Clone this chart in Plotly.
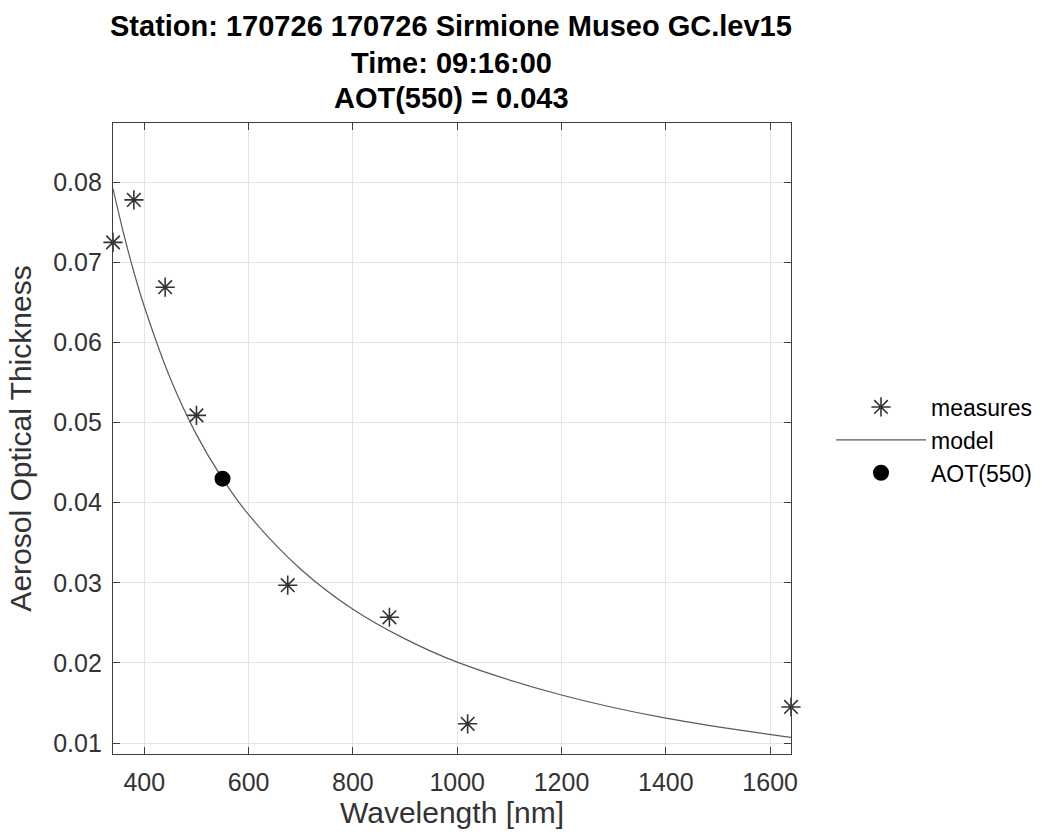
import plotly.graph_objects as go

# measured AOT
wl_meas = [340, 380, 440, 500, 675, 870, 1020, 1640]
aot_meas = [0.0725, 0.0778, 0.0669, 0.0509, 0.0297, 0.0257, 0.0124, 0.0145]

# model curve
wl_model = [340, 360, 380, 400, 450, 500, 550, 600, 700, 800, 900, 1000, 1200, 1400, 1640]
aot_model = [0.0792, 0.0737, 0.0688, 0.0645, 0.0555, 0.0485, 0.0430, 0.0385, 0.0317,
             0.0267, 0.0230, 0.0201, 0.0160, 0.0131, 0.0107]

wl_550 = [550]
aot_550 = [0.043]

x_ticks = [400, 600, 800, 1000, 1200, 1400, 1600]
y_ticks = [0.01, 0.02, 0.03, 0.04, 0.05, 0.06, 0.07, 0.08]

title_lines = ["Station: 170726 170726 Sirmione Museo GC.lev15",
               "Time: 09:16:00",
               "AOT(550) = 0.043"]

FONT = "Liberation Sans, Arial, Helvetica"

fig = go.Figure()
fig.add_trace(go.Scatter(x=wl_meas, y=aot_meas, mode="markers", name="measures",
                         cliponaxis=False,
                         marker=dict(symbol="asterisk-open", size=16, color="#333333",
                                     line=dict(color="#333333", width=1.6))))
fig.add_trace(go.Scatter(x=wl_model, y=aot_model, mode="lines", name="model",
                         line=dict(color="#5a5a5a", width=1.2, shape="spline")))
fig.add_trace(go.Scatter(x=wl_550, y=aot_550, mode="markers", name="AOT(550)",
                         cliponaxis=False,
                         marker=dict(symbol="circle", size=16, color="black")))

axis_common = dict(showgrid=True, gridcolor="#e4e4e4", gridwidth=1,
                   showline=True, linecolor="#404040", linewidth=1.3, mirror="ticks",
                   ticks="inside", ticklen=7, tickcolor="#404040",
                   tickfont=dict(family=FONT, size=25, color="#333333"),
                   zeroline=False)

# title lines as annotations
title_y_px = [26, 63, 98]
plot_top, plot_bottom = 123, 754
for txt, ypx in zip(title_lines, title_y_px):
    fig.add_annotation(text="<b>" + txt + "</b>", xref="paper", yref="paper",
                       x=(451 - 113) / 678, y=(plot_bottom - ypx) / (plot_bottom - plot_top),
                       xanchor="center", yanchor="middle", showarrow=False,
                       font=dict(family=FONT, size=29, color="black"))

fig.update_layout(
    width=1045, height=835,
    paper_bgcolor="white", plot_bgcolor="white",
    margin=dict(l=113, r=254, t=123, b=81, autoexpand=False),
    xaxis=dict(range=[340, 1640], tickvals=x_ticks, ticklabelstandoff=6,
               title=dict(text="Wavelength [nm]", standoff=6,
                          font=dict(family=FONT, size=30, color="#333333")),
               **axis_common),
    yaxis=dict(range=[0.00863, 0.0874], tickvals=y_ticks, tickformat=".2f",
               ticklabelstandoff=5,
               title=dict(text="Aerosol Optical Thickness", standoff=12,
                          font=dict(family=FONT, size=30, color="#333333")),
               **axis_common),
    legend=dict(x=1.059, xanchor="left", y=0.4976, yanchor="middle",
                font=dict(family=FONT, size=23, color="black"),
                bgcolor="rgba(0,0,0,0)", itemwidth=90, tracegroupgap=0),
)

fig.write_html("out.html")
